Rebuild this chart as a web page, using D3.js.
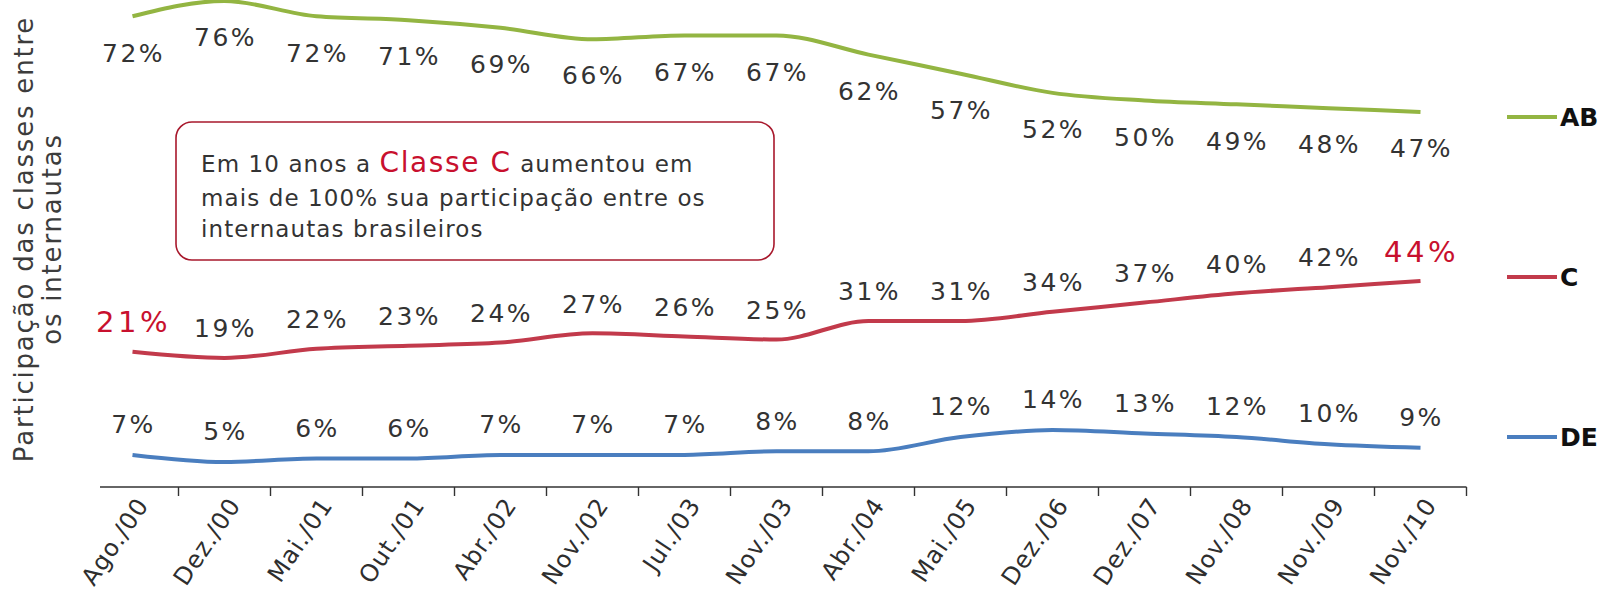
<!DOCTYPE html>
<html>
<head>
<meta charset="utf-8">
<script src="https://cdn.jsdelivr.net/npm/d3@7"></script>
<style>
  html, body { margin: 0; padding: 0; background: #ffffff; }
  svg { display: block; }
  text { font-family: "DejaVu Sans", Verdana, sans-serif; }
</style>
</head>
<body>
<svg id="chart" width="1604" height="597"></svg>
<script>
// ---- data ----
const categories = ["Ago./00","Dez./00","Mai./01","Out./01","Abr./02","Nov./02","Jul./03","Nov./03","Abr./04","Mai./05","Dez./06","Dez./07","Nov./08","Nov./09","Nov./10"];
const seriesNames = ["AB", "C", "DE"];
const valuesAB = [72, 76, 72, 71, 69, 66, 67, 67, 62, 57, 52, 50, 49, 48, 47];
const valuesC  = [21, 19, 22, 23, 24, 27, 26, 25, 31, 31, 34, 37, 40, 42, 44];
const valuesDE = [7, 5, 6, 6, 7, 7, 7, 8, 8, 12, 14, 13, 12, 10, 9];
const yTitleLines = ["Participação das classes entre", "os internautas"];
const noteParts = [["Em 10 anos a ", "Classe C", " aumentou em"], ["mais de 100% sua participação entre os"], ["internautas brasileiros"]];

// ---- layout ----
const svg = d3.select("#chart");
const axisY = 487;
const x = d3.scaleBand().domain(categories).range([86.5, 1466.5]).paddingInner(0).paddingOuter(0);
const cx = c => x(c) + x.bandwidth() / 2;

const series = [
  { name: seriesNames[0], values: valuesAB, color: "#93b542",
    y: d3.scaleLinear().domain([47, 76]).range([112, 1]), labelDy: 36, legendY: 117 },
  { name: seriesNames[1], values: valuesC, color: "#c23a4b",
    y: d3.scaleLinear().domain([19, 44]).range([358, 281]), labelDy: -30, legendY: 277 },
  { name: seriesNames[2], values: valuesDE, color: "#4a7ebf",
    y: d3.scaleLinear().domain([5, 14]).range([462, 430]), labelDy: -31, legendY: 437 }
];

// ---- y title ----
const tX = [33, 61];
yTitleLines.forEach((t, i) => {
  svg.append("text")
    .attr("transform", `translate(${tX[i]},239) rotate(-90)`)
    .attr("text-anchor", "middle")
    .attr("font-size", 26)
    .attr("letter-spacing", 1.8)
    .attr("fill", "#3c3c3c")
    .text(t);
});

// ---- x axis ----
svg.append("line")
  .attr("x1", 100).attr("x2", x.range()[1])
  .attr("y1", axisY).attr("y2", axisY)
  .attr("stroke", "#333").attr("stroke-width", 1.6);
svg.append("g").selectAll("line")
  .data(categories)
  .join("line")
  .attr("x1", d => x(d) + x.bandwidth()).attr("x2", d => x(d) + x.bandwidth())
  .attr("y1", axisY).attr("y2", axisY + 9)
  .attr("stroke", "#333").attr("stroke-width", 1.4);
svg.append("g").selectAll("text")
  .data(categories)
  .join("text")
  .attr("transform", d => `translate(${cx(d) + 17},${axisY + 18}) rotate(-56)`)
  .attr("text-anchor", "end")
  .attr("font-size", 24)
  .attr("letter-spacing", 1)
  .attr("fill", "#2e2e2e")
  .text(d => d);

// ---- lines ----
series.forEach(s => {
  const line = d3.line()
    .x((d, i) => cx(categories[i]))
    .y(d => s.y(d))
    .curve(d3.curveMonotoneX);
  svg.append("path")
    .datum(s.values)
    .attr("d", line)
    .attr("fill", "none")
    .attr("stroke", s.color)
    .attr("stroke-width", 4)
    .attr("stroke-linejoin", "round")
    .attr("stroke-linecap", "butt");
});

// ---- value labels ----
series.forEach(s => {
  const last = s.values.length - 1;
  const big = i => s.name === "C" && (i === 0 || i === last);
  svg.append("g").selectAll("text")
    .data(s.values)
    .join("text")
    .attr("x", (d, i) => cx(categories[i]) + 1)
    .attr("y", (d, i) => s.y(d) + s.labelDy + (big(i) ? 10.5 : 9.2))
    .attr("text-anchor", "middle")
    .attr("font-size", (d, i) => big(i) ? 29 : 25)
    .attr("letter-spacing", (d, i) => big(i) ? 3.5 : 2.4)
    .attr("fill", (d, i) => big(i) ? "#c8102e" : "#333")
    .text(d => d + "%");
});

// ---- legend ----
const legend = svg.append("g");
series.forEach(s => {
  legend.append("line")
    .attr("x1", 1507).attr("x2", 1557)
    .attr("y1", s.legendY).attr("y2", s.legendY)
    .attr("stroke", s.color).attr("stroke-width", 4);
  legend.append("text")
    .attr("x", 1560).attr("y", s.legendY + 9)
    .attr("font-size", 25).attr("font-weight", "bold")
    .attr("fill", "#111")
    .text(s.name);
});

// ---- annotation box ----
svg.append("rect")
  .attr("x", 176).attr("y", 122).attr("width", 598).attr("height", 138)
  .attr("rx", 16).attr("ry", 16)
  .attr("fill", "none").attr("stroke", "#a8182c").attr("stroke-width", 1.6);
const baselines = [172, 206, 237];
noteParts.forEach((parts, li) => {
  const t = svg.append("text")
    .attr("x", 201).attr("y", baselines[li])
    .attr("font-size", 23).attr("letter-spacing", 1.1)
    .attr("fill", "#333");
  parts.forEach((p, pi) => {
    const ts = t.append("tspan").text(p);
    if (li === 0 && pi === 1) {
      ts.attr("font-size", 28).attr("letter-spacing", 1.6).attr("fill", "#c8102e");
    }
  });
});
</script>
</body>
</html>
